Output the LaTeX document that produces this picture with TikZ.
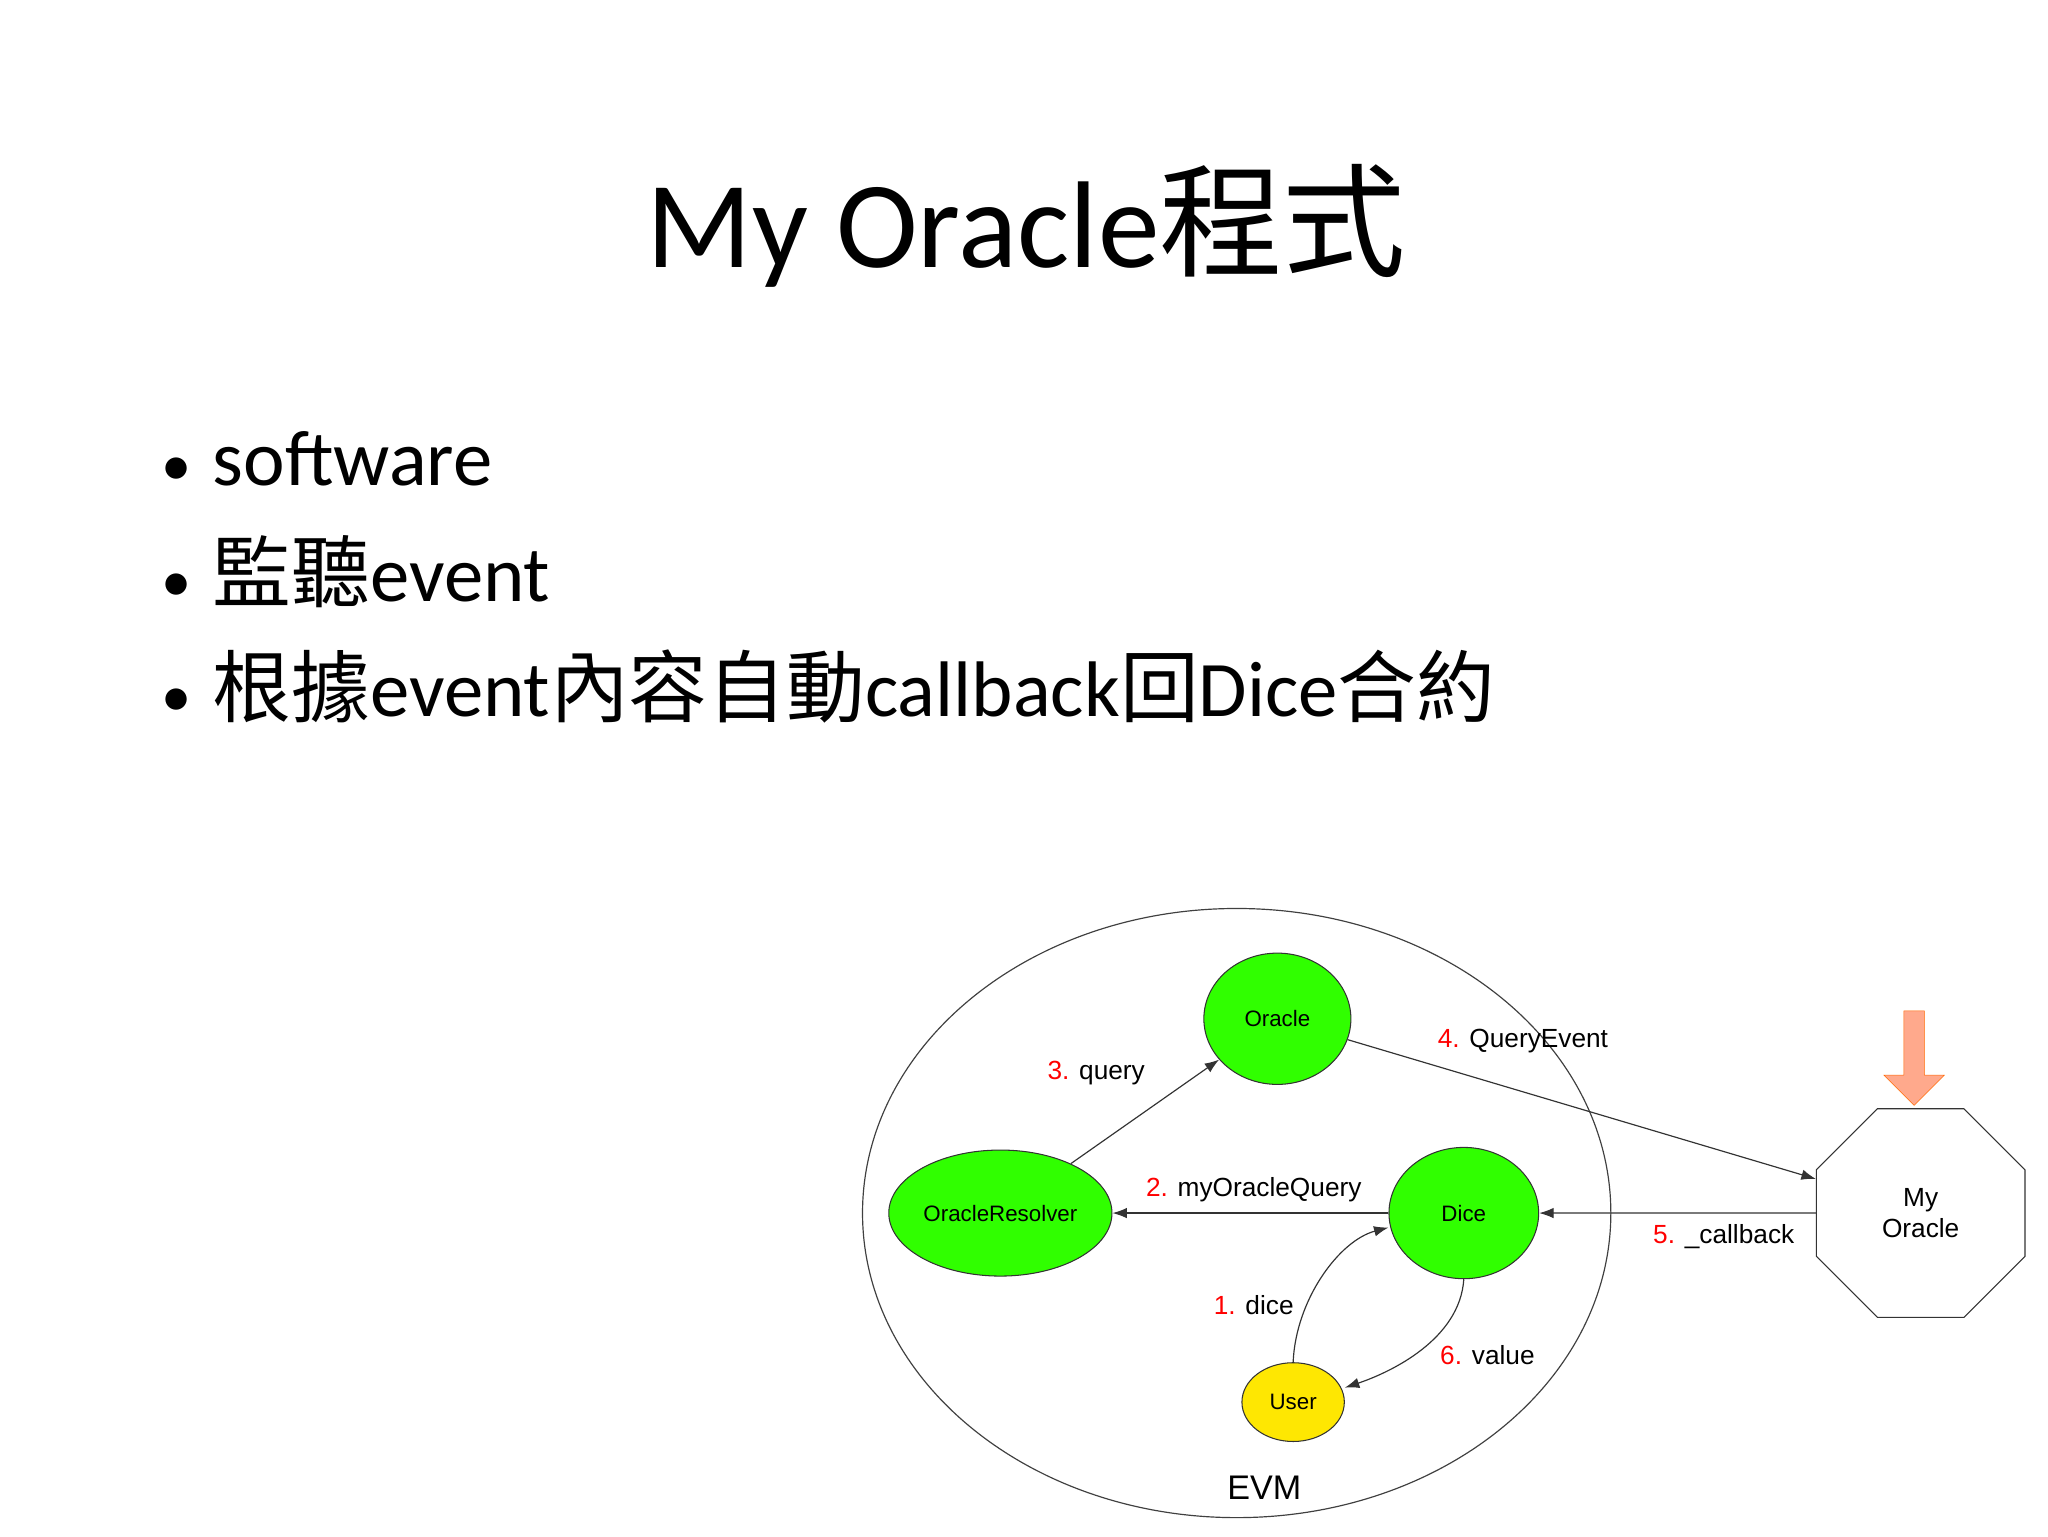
\documentclass[tikz,border=0pt]{standalone}
\usepackage{fontspec}
\setmainfont{Carlito}
\newfontfamily\cjk{Noto Sans CJK TC}
\newfontfamily\lab{Liberation Sans}
\usetikzlibrary{shapes.geometric,shapes.arrows,arrows.meta}
\begin{document}
\begin{tikzpicture}[x=1pt,y=-1pt,
  gnode/.style={ellipse,draw=black!80,thick,fill=green!75!lime,inner sep=0pt,font=\lab\fontsize{17}{19}\selectfont},
  edge/.style={-{Latex[length=11pt,width=8pt]},black!80,line width=0.9pt},
  lbl/.style={font=\lab\fontsize{20}{22}\selectfont,inner sep=1pt},
  bul/.style={anchor=base west,font=\fontsize{60}{64}\selectfont,inner sep=0pt}]
\useasboundingbox (0,0) rectangle (1560,1170);
\node (title) at (782,172) {\fontsize{94}{104}\selectfont My Oracle{\cjk 程式}};
\node[bul] (b1) at (123,370) {{\fontsize{46}{50}\selectfont•}\hspace{16pt}software};
\node[bul] (b2) at (123,458) {{\fontsize{46}{50}\selectfont•}\hspace{16pt}{\cjk 監聽}event};
\node[bul] (b3) at (123,546) {{\fontsize{46}{50}\selectfont•}\hspace{16pt}{\cjk 根據}event{\cjk 內容自動}callback{\cjk 回}Dice{\cjk 合約}};
\draw[black!75,line width=0.9pt] (942,924) ellipse [x radius=285, y radius=232];
\node[gnode,minimum width=112pt,minimum height=100pt] (oracle) at (973,776) {Oracle};
\node[gnode,minimum width=170pt,minimum height=96pt] (res) at (762,924) {OracleResolver};
\node[gnode,minimum width=114pt,minimum height=100pt] (dice) at (1115,924) {Dice};
\node[gnode,fill=yellow!90!orange,minimum width=78pt,minimum height=60pt] (user) at (985,1068) {User};
\node[regular polygon,regular polygon sides=8,draw=black!80,thick,minimum size=172pt,inner sep=0pt,align=center,font=\lab\fontsize{20}{23}\selectfont] (my) at (1463,924) {My\\Oracle};
\node[font=\lab\fontsize{26}{28}\selectfont] (evm) at (963,1133) {EVM};
\node[single arrow,shape border rotate=270,fill=orange!50!red!45,draw=orange!80!red,minimum width=46pt,single arrow head extend=12pt,single arrow tip angle=90,minimum height=72pt,inner sep=6pt] (oarr) at (1458,802) {};
\draw[edge] (res) -- (oracle);
\draw[edge] (oracle) -- (my.west |- 0,898);
\draw[edge] (my.west) -- (dice);
\draw[edge] (dice) -- (res);
\draw[edge] (user.north) .. controls (987,990) and (1020,945) .. (dice.west |- 0,935);
\draw[edge] (dice.south) .. controls (1112,1020) and (1060,1045) .. (user.east |- 0,1057);
\node[lbl] (l3) at (835,817) {\textcolor{red}{3.} query};
\node[lbl] (l4) at (1160,793) {\textcolor{red}{4.} QueryEvent};
\node[lbl] (l2) at (955,906) {\textcolor{red}{2.} myOracleQuery};
\node[lbl] (l5) at (1313,942) {\textcolor{red}{5.} \_callback};
\node[lbl] (l1) at (955,994) {\textcolor{red}{1.} dice};
\node[lbl] (l6) at (1133,1032) {\textcolor{red}{6.} value};
\end{tikzpicture}
\end{document}
